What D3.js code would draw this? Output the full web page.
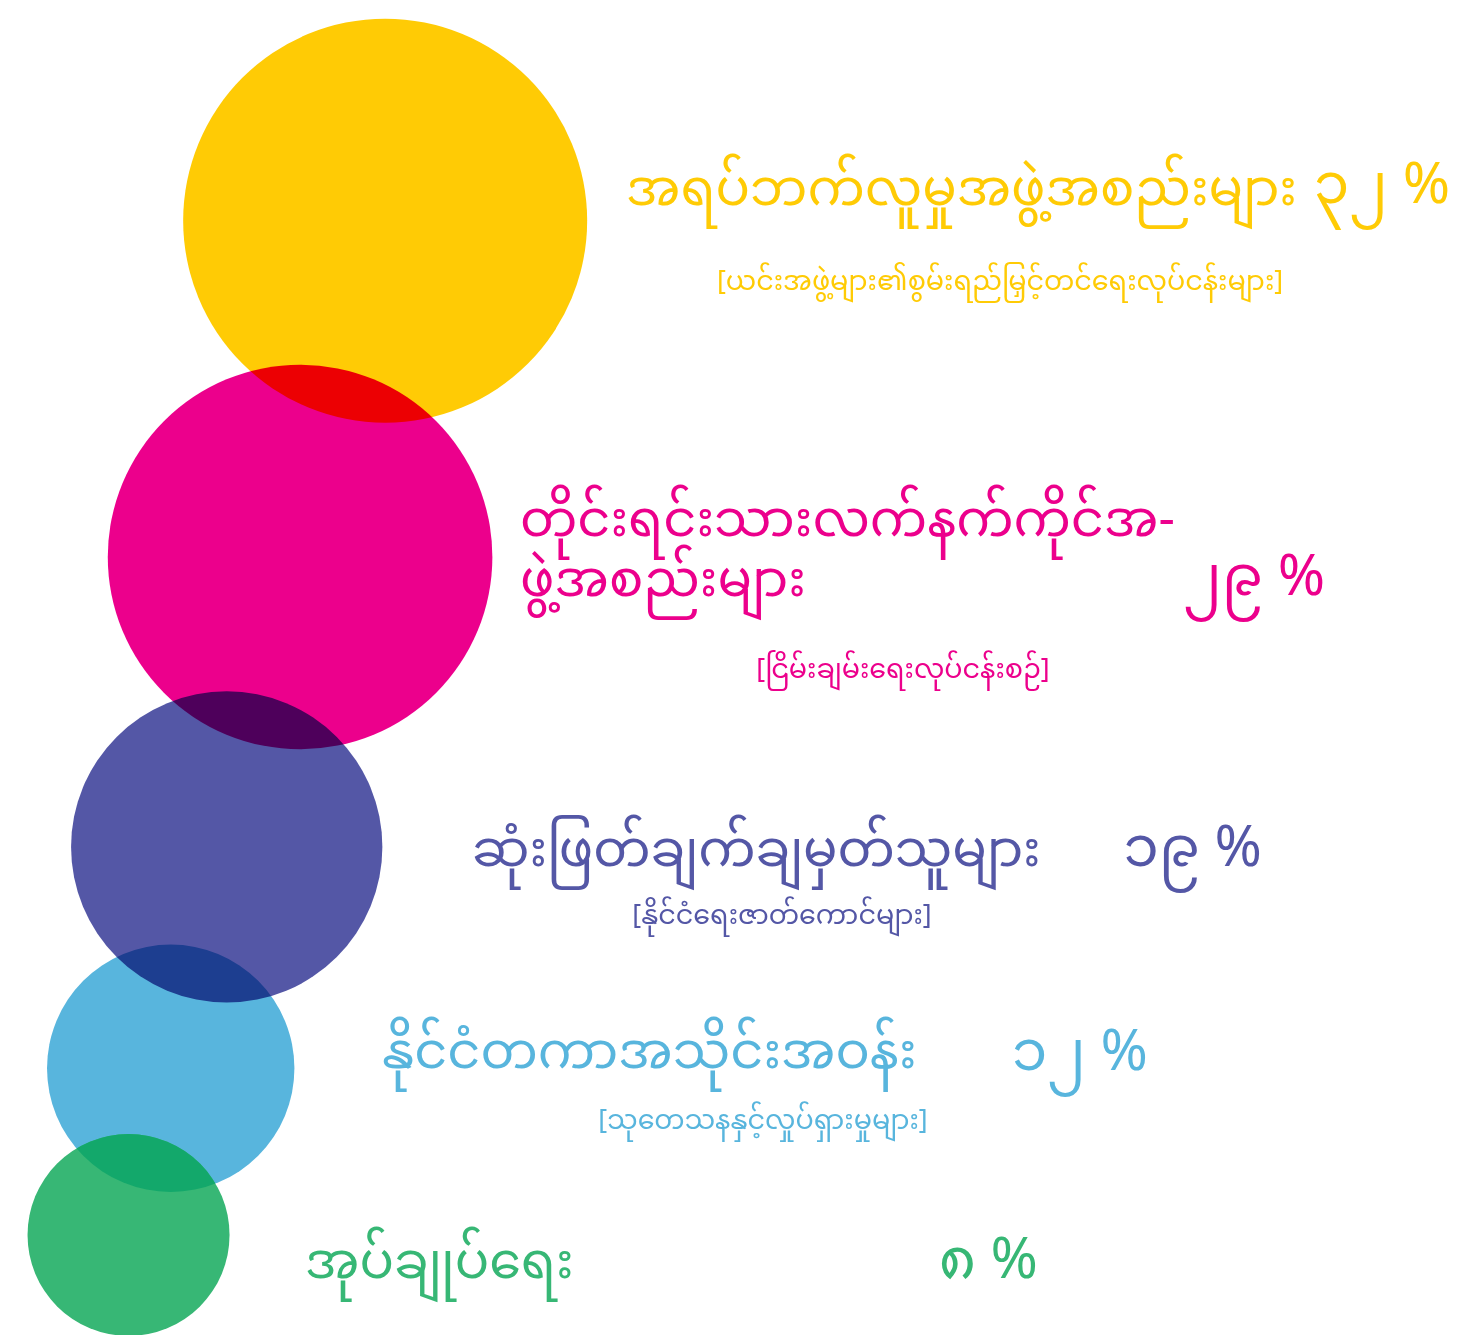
<!DOCTYPE html>
<html>
<head>
<meta charset="utf-8">
<script src="https://cdn.jsdelivr.net/npm/d3@7"></script>
<style>
	html, body { margin: 0; padding: 0; background: #fff; }
	svg { display: block; }
	text { font-family: "Noto Sans Myanmar", "Padauk", "Myanmar Text", "Noto Sans", sans-serif; }
</style>
</head>
<body>
<div id="vis"></div>
<script>

// stakeholder groups (label lines), their share and the note under each
var groupLines = [
	["အရပ်ဘက်လူမှုအဖွဲ့အစည်းများ"],
	["တိုင်းရင်းသားလက်နက်ကိုင်အ-", "ဖွဲ့အစည်းများ"],
	["ဆုံးဖြတ်ချက်ချမှတ်သူများ"],
	["နိုင်ငံတကာအသိုင်းအဝန်း"],
	["အုပ်ချုပ်ရေး"]
];
var shares = [32, 29, 19, 12, 8];
var shareLabels = ["၃၂ %", "၂၉ %", "၁၉ %", "၁၂ %", "၈ %"];
var notes = [
	"[ယင်းအဖွဲ့များ၏စွမ်းရည်မြှင့်တင်ရေးလုပ်ငန်းများ]",
	"[ငြိမ်းချမ်းရေးလုပ်ငန်းစဉ်]",
	"[နိုင်ငံရေးဇာတ်ကောင်များ]",
	"[သုတေသနနှင့်လှုပ်ရှားမှုများ]",
	""
];
var colors = ["#ffcb05", "#ec008c", "#5457a6", "#58b5dd", "#37b775"];

var width = 1481, height = 1335;

var data = shares.map(function(d, i) {
	return { lines: groupLines[i], share: d, shareLabel: shareLabels[i], note: notes[i], color: colors[i] };
});

// bubble area follows the share
var rScale = d3.scaleSqrt()
	.domain([0, 8])
	.range([0, 101]);

// bubbles are stacked bottom-up, each one overlapping the one below
var overlap = 58;
var bottom = height + 1;
for (var i = data.length - 1; i >= 0; i--) {
	var d = data[i];
	d.r = rScale(d.share);
	if (i == data.length - 1) {
		d.cy = bottom - d.r;
	} else {
		var below = data[i + 1];
		d.cy = below.cy - below.r - d.r + overlap;
	}
}

// centres sit along a slanted line
var xScale = d3.scaleLinear()
	.domain([0, height])
	.range([441, 441 - 0.253 * height]);

data.forEach(function(d) { d.cx = xScale(d.cy); });

// text placement for each row (label start, share end, note centre, baselines)
var rows = [
	{ lx: 626, ly: [205], px: 1450, py: 203, nx: 1000, ny: 290 },
	{ lx: 520, ly: [536, 596], px: 1325, py: 595, nx: 903, ny: 678 },
	{ lx: 472, ly: [866], px: 1262, py: 866, nx: 782, ny: 924 },
	{ lx: 382, ly: [1068], px: 1148, py: 1070, nx: 763, ny: 1129 },
	{ lx: 305, ly: [1278], px: 1038, py: 1278, nx: 0, ny: 0 }
];

var svg = d3.select("#vis").append("svg")
	.attr("width", width)
	.attr("height", height);

var defs = svg.append("defs");

var bubbles = svg.append("g")
	.attr("class", "bubbles")
	.style("isolation", "isolate");

bubbles.selectAll("circle")
	.data(data)
	.enter()
	.append("circle")
	.attr("cx", function(d) { return d.cx; })
	.attr("cy", function(d) { return d.cy; })
	.attr("r", function(d) { return d.r; })
	.style("fill", function(d) { return d.color; })
	.style("mix-blend-mode", function(d, i) { return i == data.length - 1 ? "normal" : "multiply"; });

// the lens where the last two bubbles meet is a lighter green, not a multiply
var last = data[data.length - 1], prev = data[data.length - 2];
defs.append("clipPath")
	.attr("id", "lensClip")
	.append("circle")
	.attr("cx", prev.cx)
	.attr("cy", prev.cy)
	.attr("r", prev.r);

bubbles.append("circle")
	.attr("cx", last.cx)
	.attr("cy", last.cy)
	.attr("r", last.r)
	.attr("clip-path", "url(#lensClip)")
	.style("fill", "#13a86b");

var labels = svg.append("g")
	.attr("class", "labels")
	.selectAll("g")
	.data(data)
	.enter()
	.append("g")
	.style("fill", function(d) { return d.color; });

labels.each(function(d, i) {
	var g = d3.select(this);
	var row = rows[i];

	d.lines.forEach(function(line, j) {
		g.append("text")
			.attr("x", row.lx)
			.attr("y", row.ly[j])
			.style("font-size", "51px")
			.text(line);
	});

	g.append("text")
		.attr("x", row.px)
		.attr("y", row.py)
		.attr("text-anchor", "end")
		.style("font-size", "57px")
		.text(d.shareLabel);

	if (d.note) {
		g.append("text")
			.attr("x", row.nx)
			.attr("y", row.ny)
			.attr("text-anchor", "middle")
			.style("font-size", "27px")
			.text(d.note);
	}
});

</script>
</body>
</html>
